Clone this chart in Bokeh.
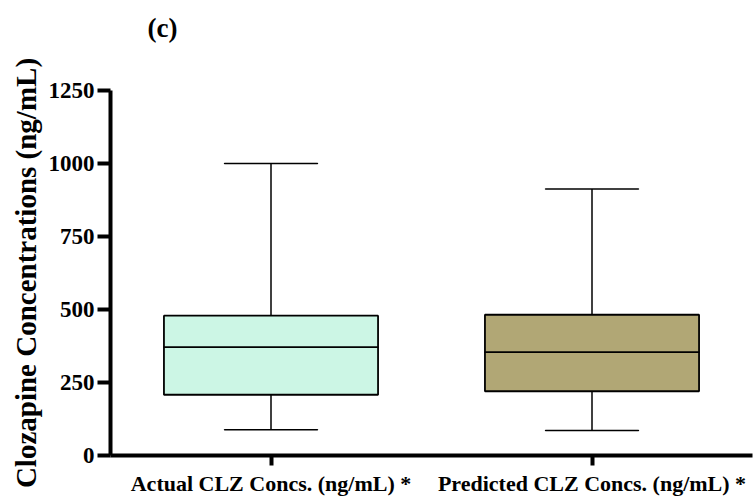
from bokeh.plotting import figure
from bokeh.models import Title, FixedTicker, ColumnDataSource
from bokeh.embed import file_html
from bokeh.resources import INLINE

categories = ["Actual CLZ Concs. (ng/mL) *", "Predicted CLZ Concs. (ng/mL) *"]
whisker_low = [88, 86]
q1 = [208, 220]
median = [371, 354]
q3 = [479, 482]
whisker_high = [1000, 913]
fills = ["#ccf6e5", "#b1a775"]
y_ticks = [0, 250, 500, 750, 1000, 1250]

FONT = "Liberation Serif"

p = figure(x_range=categories, y_range=(0, 1250), width=756, height=499,
           output_backend="svg", toolbar_location=None,
           min_border_left=110, min_border_right=4, min_border_top=90, min_border_bottom=44)
p.outline_line_color = None
p.xgrid.grid_line_color = None
p.ygrid.grid_line_color = None
p.x_range.range_padding = 0

src = ColumnDataSource(dict(cat=categories, wl=whisker_low, q1=q1, med=median,
                            q3=q3, wh=whisker_high, fill=fills))

# whiskers
p.segment(x0="cat", y0="wl", x1="cat", y1="q1", source=src, line_color="black", line_width=1.5)
p.segment(x0="cat", y0="q3", x1="cat", y1="wh", source=src, line_color="black", line_width=1.5)
p.rect(x="cat", y="wl", width=0.29, height=0.01, source=src, line_color="black", line_width=1.5, fill_alpha=0, height_units="screen")
p.rect(x="cat", y="wh", width=0.29, height=0.01, source=src, line_color="black", line_width=1.5, fill_alpha=0, height_units="screen")
# boxes
p.vbar(x="cat", bottom="q1", top="q3", width=0.667, source=src, fill_color="fill",
       line_color="black", line_width=1.8)
p.rect(x="cat", y="med", width=0.667, height=0.01, height_units="screen", source=src,
       line_color="black", line_width=1.8, fill_alpha=0)

# axes
p.yaxis.ticker = FixedTicker(ticks=y_ticks)
p.yaxis.axis_label = "Clozapine Concentrations (ng/mL)"
for ax in (p.xaxis[0], p.yaxis[0]):
    ax.axis_line_width = 4
    ax.axis_line_color = "black"
    ax.major_tick_line_width = 4
    ax.major_tick_line_color = "black"
    ax.major_tick_in = 0
    ax.minor_tick_line_color = None
    ax.major_label_text_font = FONT
    ax.major_label_text_font_style = "bold"
    ax.major_label_text_color = "black"
    ax.axis_label_text_font = FONT
    ax.axis_label_text_font_style = "bold"
    ax.axis_label_text_color = "black"

p.yaxis.major_tick_out = 13
p.yaxis.major_label_text_font_size = "23px"
p.yaxis.major_label_standoff = 3
p.yaxis.axis_label_text_font_size = "29px"
p.yaxis.axis_label_standoff = 4
p.xaxis.major_tick_out = 10
p.xaxis.major_label_text_font_size = "22px"
p.xaxis.major_label_standoff = 5

# spacer then title (later titles stack further from the frame)
p.add_layout(Title(text=" ", text_font_size="28px"), "above")
p.add_layout(Title(text="(c)", align="left", offset=37, text_font=FONT,
                   text_font_style="bold", text_font_size="27px", text_color="black"), "above")

open("out.html", "w").write(file_html(p, INLINE))
